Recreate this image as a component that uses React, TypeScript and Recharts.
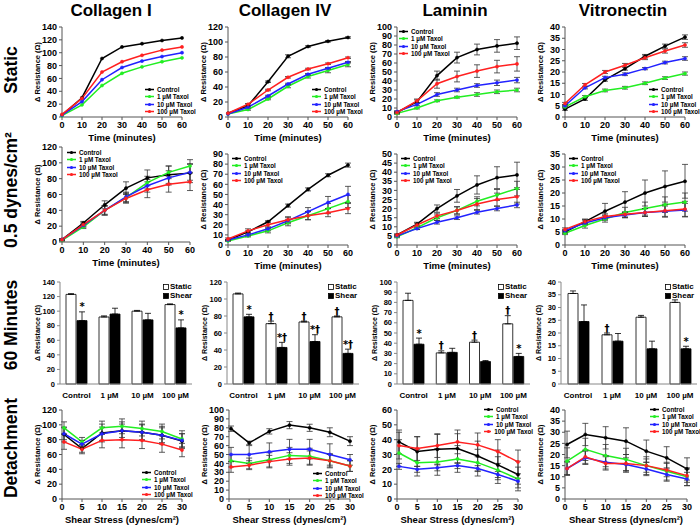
import React from 'react';
import { LineChart, Line, XAxis, YAxis, ErrorBar, Legend, BarChart, Bar, LabelList } from 'recharts';

const NARROW = "'Liberation Sans Narrow', 'Arial Narrow', 'Liberation Sans', Arial, sans-serif";
const SANS = "'Liberation Sans', Arial, sans-serif";
const MARKFONT = "'DejaVu Sans', 'Liberation Sans', sans-serif";

// ---------- shared categories / labels ----------
const columnTitles = ['Collagen I', 'Collagen IV', 'Laminin', 'Vitronectin'];
const rowTitles = ['Static', '0.5 dynes/cm²', '60 Minutes', 'Detachment'];
const timeMinutes = [0, 10, 20, 30, 40, 50, 60];
const shearStress = [0.5, 5, 10, 15, 20, 25, 30];
const timeTicks = [0, 10, 20, 30, 40, 50, 60];
const shearTicks = [0, 5, 10, 15, 20, 25, 30];
const seriesNames = ['Control', '1 µM Taxol', '10 µM Taxol', '100 µM Taxol'];
const seriesColors = ['#000000', '#22ee22', '#2222ff', '#ff2020'];
const barCategories = ['Control', '1 µM', '10 µM', '100 µM'];
const barSeriesNames = ['Static', 'Shear'];

const ticks140 = [0, 20, 40, 60, 80, 100, 120, 140];
const ticks120 = [0, 20, 40, 60, 80, 100, 120];
const ticks100by10 = [0, 10, 20, 30, 40, 50, 60, 70, 80, 90, 100];
const ticks90by10 = [0, 10, 20, 30, 40, 50, 60, 70, 80, 90];
const ticks60by10 = [0, 10, 20, 30, 40, 50, 60];
const ticks50by5 = [0, 5, 10, 15, 20, 25, 30, 35, 40, 45, 50];
const ticks40by5 = [0, 5, 10, 15, 20, 25, 30, 35, 40];
const ticks35by5 = [0, 5, 10, 15, 20, 25, 30, 35];

// ---------- Row 1: Static (Control, 1, 10, 100 µM) ----------
const staticCollagenI = [
  [3, 30, 91, 109, 114, 119, 123],
  [2, 19, 49, 68, 78, 86, 92],
  [3, 24, 58, 77, 87, 94, 100],
  [4, 29, 70, 86, 96, 104, 109],
];
const staticCollagenIV = [
  [5, 15, 47, 81, 94, 101, 106],
  [4, 10, 24, 41, 54, 62, 70],
  [4, 13, 28, 44, 57, 65, 73],
  [5, 17, 36, 53, 64, 71, 79],
];
const staticCollagenIVErr = [
  [0, 0, 1, 2, 1, 1, 1],
  [0, 1, 1, 2, 2, 3, 3],
  [0, 1, 1, 1, 1, 1, 1],
  [0, 1, 1, 1, 1, 1, 1],
];
const staticLaminin = [
  [5, 17, 46, 66, 75, 79, 82],
  [4, 10, 18, 22, 25, 28, 30],
  [6, 14, 25, 30, 35, 38, 41],
  [5, 18, 37, 45, 51, 56, 59],
];
const staticLamininErr = [
  [1, 2, 5, 6, 6, 7, 7],
  [1, 1, 1, 1, 2, 2, 2],
  [1, 1, 2, 2, 2, 3, 3],
  [1, 2, 5, 6, 7, 7, 8],
];
const staticVitronectin = [
  [3.5, 8, 16.5, 21.5, 27, 31.5, 35.5],
  [4.5, 9, 11.8, 13, 15, 17.3, 19.3],
  [5, 13, 17.5, 19, 21.5, 24.2, 26],
  [6, 14.3, 20, 23, 26.3, 29.3, 32],
];
const staticVitronectinErr = [
  [0.5, 0.6, 0.6, 0.7, 0.8, 0.9, 1],
  [0.4, 0.5, 0.6, 0.6, 0.6, 0.6, 0.7],
  [0.4, 0.5, 0.6, 0.6, 0.5, 0.6, 0.8],
  [0.5, 0.6, 0.7, 0.8, 0.8, 0.9, 1],
];

// ---------- Row 2: 0.5 dynes/cm² ----------
const shearCollagenI = [
  [3, 24, 47, 68, 81, 85, 87],
  [2, 19, 40, 56, 75, 88, 96],
  [3, 21, 40, 57, 71, 81, 88],
  [3, 22, 40, 55, 66, 73, 76],
];
const shearCollagenIErr = [
  [1, 2, 5, 8, 10, 11, 12],
  [1, 2, 6, 6, 8, 8, 8],
  [1, 2, 5, 6, 8, 9, 10],
  [1, 3, 6, 6, 10, 10, 11],
];
const shearCollagenIV = [
  [5, 13, 23, 39, 55, 69, 79],
  [4, 9, 14, 22, 29, 36, 43],
  [5, 10, 16, 24, 33, 42, 50],
  [6, 14, 20, 25, 29, 32, 36],
];
const shearCollagenIVErr = [
  [0.5, 1, 1, 1.5, 1.5, 1.5, 2],
  [0.5, 1, 2, 3, 4, 5, 6],
  [0.5, 1, 2, 3, 4, 6, 8],
  [1, 2, 3, 3, 4, 4, 5],
];
const shearLaminin = [
  [5.5, 11.5, 20, 27, 33, 37, 38.5],
  [4.5, 9.5, 15, 19, 24, 27.5, 31],
  [5, 9, 12.5, 15, 18, 20, 22],
  [5.5, 11, 16, 19, 22.5, 25, 26.5],
];
const shearLamininErr = [
  [0.5, 1, 2, 3.5, 5, 6, 7],
  [0.5, 1, 1.5, 2, 2.5, 3, 4],
  [0.5, 0.5, 1, 1, 1, 1.2, 1.5],
  [0.5, 1, 1.5, 2, 3, 3.5, 4],
];
const shearVitronectin = [
  [5, 9, 13, 16.5, 20, 22.5, 24.5],
  [4.5, 7.5, 10, 12.5, 14, 15.5, 16.5],
  [5.5, 8.5, 10.5, 11.5, 12.5, 13, 13.5],
  [6, 9, 11, 11.8, 12.5, 13.2, 13.8],
];
const shearVitronectinErr = [
  [0.6, 1, 3, 4, 5, 6, 6.5],
  [0.5, 1, 1.2, 2, 2.5, 3, 3.5],
  [0.5, 0.8, 1, 1, 1.5, 2, 2.5],
  [0.6, 0.8, 1, 1, 1.5, 2.5, 3],
];

// ---------- Row 3: 60 minutes (Control, 1, 10, 100 µM) ----------
const min60CollagenIStatic = [123, 92, 100, 109];
const min60CollagenIStaticErr = [1, 1.5, 1, 1];
const min60CollagenIShear = [87, 96, 88, 77];
const min60CollagenIShearErr = [12, 8, 9, 11];
const min60CollagenIStaticMarks = ['', '', '', ''];
const min60CollagenIShearMarks = ['*', '', '', '*'];

const min60CollagenIVStatic = [106, 71, 73, 79];
const min60CollagenIVStaticErr = [1, 3, 1, 1];
const min60CollagenIVShear = [79, 43, 50, 36];
const min60CollagenIVShearErr = [3, 6, 8, 5];
const min60CollagenIVStaticMarks = ['', '†', '†', '†'];
const min60CollagenIVShearMarks = ['*', '*†', '*†', '*†'];

const min60LamininStatic = [82, 30.5, 41, 59];
const min60LamininStaticErr = [7, 2, 2, 8];
const min60LamininShear = [39, 31, 22, 27];
const min60LamininShearErr = [6, 4, 1, 3];
const min60LamininStaticMarks = ['', '†', '†', '†'];
const min60LamininShearMarks = ['*', '', '', '*'];

const min60VitronectinStatic = [35.5, 19.3, 26.2, 32];
const min60VitronectinStaticErr = [1, 0.7, 0.7, 1];
const min60VitronectinShear = [24.5, 16.8, 13.8, 13.8];
const min60VitronectinShearErr = [6.5, 3, 3, 1];
const min60VitronectinStaticMarks = ['', '†', '', ''];
const min60VitronectinShearMarks = ['', '', '', '*'];

// ---------- Row 4: Detachment ----------
const detachCollagenI = [
  [87, 68, 89, 92, 90, 86, 78],
  [96, 77, 96, 98, 95, 91, 81],
  [88, 74, 88, 92, 90, 86, 79],
  [77, 67, 79, 80, 79, 74, 66],
];
const detachCollagenIErr = [
  [10, 5, 12, 12, 11, 12, 10],
  [8, 6, 9, 10, 10, 10, 11],
  [8, 5, 9, 9, 10, 10, 9],
  [10, 6, 10, 11, 11, 11, 9],
];
const detachCollagenIV = [
  [79, 63, 76, 83, 80, 75, 65],
  [43, 40, 44, 49, 48, 43, 37],
  [50, 50, 53, 56, 56, 50, 44],
  [36, 38, 42, 45, 46, 43, 37],
];
const detachCollagenIVErr = [
  [3, 2, 3, 4, 4, 5, 5],
  [7, 6, 8, 9, 9, 8, 6],
  [8, 10, 10, 11, 11, 12, 6],
  [6, 5, 7, 7, 8, 7, 6],
];
const detachLaminin = [
  [38.5, 32, 33.5, 34, 29, 23, 16.5],
  [31, 24.5, 25, 27, 24.5, 19.5, 13.5],
  [22, 20, 21, 22.5, 20.5, 16.5, 12],
  [36, 34, 36, 38.5, 36.5, 32, 25],
];
const detachLamininErr = [
  [8, 10, 10, 10, 10, 10, 9],
  [9, 9, 9, 9, 9, 9, 8],
  [2, 2, 2, 2, 2, 2, 2],
  [9, 8, 8, 8, 8, 8, 8],
];
const detachVitronectin = [
  [24.5, 29, 27.5, 26, 21.5, 18.5, 13.5],
  [17, 22.3, 19.5, 17.8, 15, 12.5, 10],
  [13.7, 18.5, 16.5, 15.5, 13.5, 11, 9],
  [13.7, 19, 16, 16, 15, 13, 10.5],
];
const detachVitronectinErr = [
  [6, 5, 5, 6, 5, 5, 5],
  [6, 5, 5, 5, 4, 4, 4],
  [3, 3, 3, 3, 3, 3, 3],
  [3, 3, 3, 4, 3, 3, 3],
];

// ---------- components ----------
const LineLegend = () => (
  <div style={{ fontFamily: NARROW, fontSize: 6.3, fontWeight: 700, color: '#000', lineHeight: '7.5px' }}>
    {seriesNames.map((n, k) => (
      <div key={k} style={{ display: 'flex', alignItems: 'center', height: 7.5, whiteSpace: 'nowrap' }}>
        <svg width={9} height={5} style={{ display: 'block' }}>
          <line x1={0} y1={2.5} x2={9} y2={2.5} stroke={seriesColors[k]} strokeWidth={1.5} />
          <circle cx={4.5} cy={2.5} r={1.6} fill={seriesColors[k]} />
        </svg>
        <span style={{ marginLeft: 3 }}>{n}</span>
      </div>
    ))}
  </div>
);

const BarLegend = () => (
  <div style={{ fontFamily: NARROW, fontSize: 8, fontWeight: 700, color: '#000', lineHeight: '9px' }}>
    {barSeriesNames.map((n, k) => (
      <div key={k} style={{ display: 'flex', alignItems: 'center', height: 9, whiteSpace: 'nowrap' }}>
        <svg width={6} height={6} style={{ display: 'block' }}>
          <rect x={0.5} y={0.5} width={5} height={5} fill={k === 0 ? '#fff' : '#000'} stroke="#000" strokeWidth={0.8} />
        </svg>
        <span style={{ marginLeft: 1 }}>{n}</span>
      </div>
    ))}
  </div>
);

type LineProps = {
  axisX: number; plotTop: number; plotRight: number; plotBottom: number;
  x: number[]; values: number[][]; errors?: number[][];
  yMax: number; yTicks: number[]; xMax: number; xTicks: number[]; xLabel: string;
  legendX: number; legendY: number;
};

const tickStyle = { fontSize: 9, fontWeight: 700, fill: '#000', fontFamily: NARROW };

function LinePanel(p: LineProps) {
  const yW = 42, mTop = 6, mRight = 15, xH = 29;
  const plotW = p.plotRight - p.axisX;
  const plotH = p.plotBottom - p.plotTop;
  const left = p.axisX - yW;
  const top = p.plotTop - mTop;
  const width = yW + plotW + mRight;
  const height = mTop + plotH + xH;
  const data = p.x.map((xv, i) => {
    const row: any = { x: xv };
    p.values.forEach((s, k) => {
      row['s' + k] = s[i];
      if (p.errors) row['e' + k] = p.errors[k][i];
    });
    return row;
  });
  const legendLeft = p.legendX - left;
  return (
    <div style={{ position: 'absolute', left, top, width, height }}>
      <LineChart width={width} height={height} data={data} margin={{ top: mTop, right: mRight, bottom: 0, left: 0 }}>
        <XAxis dataKey="x" type="number" domain={[0, p.xMax]} ticks={p.xTicks} interval={0} height={xH}
          tickSize={3} stroke="#555" tick={tickStyle}
          label={{ value: p.xLabel, position: 'insideBottom', offset: 5, style: { ...tickStyle, fontSize: 9.5 } }} />
        <YAxis type="number" domain={[0, p.yMax]} ticks={p.yTicks} interval={0} width={yW}
          tickSize={3} stroke="#555" tick={tickStyle}
          label={{ value: 'Δ Resistance (Ω)', angle: -90, position: 'insideLeft', offset: yW - 25,
            style: { textAnchor: 'middle', fontSize: 7.5, fontWeight: 700, fill: '#000', fontFamily: SANS } }} />
        {p.values.map((_, k) => (
          <Line key={k} dataKey={'s' + k} name={seriesNames[k]} stroke={seriesColors[k]} strokeWidth={1.5}
            dot={{ r: 1.6, fill: seriesColors[k], stroke: seriesColors[k], strokeWidth: 0.5 }}
            isAnimationActive={false}>
            {p.errors && <ErrorBar dataKey={'e' + k} width={3} stroke="#333" strokeWidth={0.8} direction="y" />}
          </Line>
        ))}
        <Legend layout="vertical" align="center" verticalAlign="middle"
          wrapperStyle={{ left: legendLeft, top: p.legendY - top, width: Math.max(20, width - legendLeft), height: 'auto' }}
          content={<LineLegend />} />
      </LineChart>
    </div>
  );
}

type BarProps = {
  axisX: number; plotTop: number; plotRight: number; plotBottom: number;
  staticVals: number[]; staticErr: number[]; shearVals: number[]; shearErr: number[];
  staticMarks: string[]; shearMarks: string[];
  yMax: number; yTicks: number[]; legendX: number; legendY: number;
};

function makeMark(data: any[], valKey: string, errKey: string) {
  return (props: any) => {
    const { x, y, width, height, index, value } = props;
    if (!value) return null;
    const d = data[index];
    const v = d[valKey];
    const per = v ? height / v : 0;
    const topY = y - d[errKey][1] * per;
    return (
      <text x={x + width / 2} y={topY - 1.5} textAnchor="middle" fontSize={10} fontWeight={700}
        fontFamily={MARKFONT} fill="#000000" style={{ fill: '#000000' }}>{value}</text>
    );
  };
}

function BarPanel(p: BarProps) {
  const yW = 36, mTop = 6, mRight = 3, xH = 19;
  const plotW = p.plotRight - p.axisX;
  const plotH = p.plotBottom - p.plotTop;
  const left = p.axisX - yW;
  const top = p.plotTop - mTop;
  const width = yW + plotW + mRight;
  const height = mTop + plotH + xH;
  const data = barCategories.map((c, i) => ({
    cat: c,
    st: p.staticVals[i], sh: p.shearVals[i],
    stE: [0, p.staticErr[i]], shE: [0, p.shearErr[i]],
    stM: p.staticMarks[i], shM: p.shearMarks[i],
  }));
  const small = { fontSize: 7.5, fontWeight: 700, fill: '#000', fontFamily: NARROW };
  return (
    <div style={{ position: 'absolute', left, top, width, height }}>
      <BarChart width={width} height={height} data={data} barGap={1}
        margin={{ top: mTop, right: mRight, bottom: 0, left: 0 }}>
        <XAxis dataKey="cat" tickLine={false} height={xH} stroke="#888" interval={0}
          tick={{ ...small, fontSize: 8 }} />
        <YAxis type="number" domain={[0, p.yMax]} ticks={p.yTicks} interval={0} width={yW}
          tickSize={3} stroke="#888" tick={small}
          label={{ value: 'Δ Resistance (Ω)', angle: -90, position: 'insideLeft', offset: yW - 22,
            style: { textAnchor: 'middle', fontSize: 7, fontWeight: 700, fill: '#000', fontFamily: SANS } }} />
        <Bar dataKey="st" name="Static" fill="#ffffff" stroke="#000" strokeWidth={0.8} barSize={10}
          isAnimationActive={false}>
          <ErrorBar dataKey="stE" width={3} stroke="#000" strokeWidth={0.8} direction="y" />
          <LabelList dataKey="stM" content={makeMark(data, 'st', 'stE')} />
        </Bar>
        <Bar dataKey="sh" name="Shear" fill="#000000" stroke="#000" strokeWidth={0.8} barSize={10}
          isAnimationActive={false}>
          <ErrorBar dataKey="shE" width={3} stroke="#000" strokeWidth={0.8} direction="y" />
          <LabelList dataKey="shM" content={makeMark(data, 'sh', 'shE')} />
        </Bar>
        <Legend layout="vertical" align="center" verticalAlign="middle"
          wrapperStyle={{ left: p.legendX - left, top: p.legendY - top, width: 'auto', height: 'auto' }}
          content={<BarLegend />} />
      </BarChart>
    </div>
  );
}

// ---------- layout (page coordinates) ----------
const titleX = [111, 285, 455, 623];
const rowLabelY = [70, 190, 325, 448];

export default function App() {
  const timeLabel = 'Time (minutes)';
  const shearLabel = 'Shear Stress (dynes/cm²)';
  return (
    <div style={{ position: 'absolute', left: 0, top: 0, width: 700, height: 525, background: '#fff', overflow: 'hidden' }}>
      <svg width={700} height={525} style={{ position: 'absolute', left: 0, top: 0 }}>
        {columnTitles.map((t, i) => (
          <text key={t} x={titleX[i]} y={16} textAnchor="middle" fontSize={17} fontWeight={700}
            fontFamily={NARROW} fill="#000">{t}</text>
        ))}
        {rowTitles.map((t, i) => (
          <text key={t} transform={`translate(17,${rowLabelY[i]}) rotate(-90)`} textAnchor="middle"
            fontSize={17.5} fontWeight={700} fontFamily={SANS} fill="#000">{t}</text>
        ))}
      </svg>

      {/* Row 1: Static */}
      <LinePanel axisX={62} plotTop={27} plotRight={182} plotBottom={117} x={timeMinutes}
        values={staticCollagenI} yMax={140} yTicks={ticks140} xMax={60} xTicks={timeTicks}
        xLabel={timeLabel} legendX={145} legendY={85.5} />
      <LinePanel axisX={228} plotTop={27} plotRight={348} plotBottom={117} x={timeMinutes}
        values={staticCollagenIV} errors={staticCollagenIVErr} yMax={120} yTicks={ticks120} xMax={60}
        xTicks={timeTicks} xLabel={timeLabel} legendX={312} legendY={85.5} />
      <LinePanel axisX={397} plotTop={27} plotRight={517} plotBottom={117} x={timeMinutes}
        values={staticLaminin} errors={staticLamininErr} yMax={100} yTicks={ticks100by10} xMax={60}
        xTicks={timeTicks} xLabel={timeLabel} legendX={399} legendY={27.5} />
      <LinePanel axisX={565} plotTop={27} plotRight={685} plotBottom={117} x={timeMinutes}
        values={staticVitronectin} errors={staticVitronectinErr} yMax={40} yTicks={ticks40by5} xMax={60}
        xTicks={timeTicks} xLabel={timeLabel} legendX={649} legendY={85.5} />

      {/* Row 2: 0.5 dynes/cm² */}
      <LinePanel axisX={62} plotTop={147} plotRight={190} plotBottom={242} x={timeMinutes}
        values={shearCollagenI} errors={shearCollagenIErr} yMax={120} yTicks={ticks120} xMax={60}
        xTicks={timeTicks} xLabel={timeLabel} legendX={67} legendY={148.5} />
      <LinePanel axisX={228} plotTop={154} plotRight={348} plotBottom={245} x={timeMinutes}
        values={shearCollagenIV} errors={shearCollagenIVErr} yMax={90} yTicks={ticks90by10} xMax={60}
        xTicks={timeTicks} xLabel={timeLabel} legendX={232} legendY={154.5} />
      <LinePanel axisX={397} plotTop={154} plotRight={517} plotBottom={245} x={timeMinutes}
        values={shearLaminin} errors={shearLamininErr} yMax={50} yTicks={ticks50by5} xMax={60}
        xTicks={timeTicks} xLabel={timeLabel} legendX={401} legendY={154.5} />
      <LinePanel axisX={565} plotTop={154} plotRight={685} plotBottom={245} x={timeMinutes}
        values={shearVitronectin} errors={shearVitronectinErr} yMax={35} yTicks={ticks35by5} xMax={60}
        xTicks={timeTicks} xLabel={timeLabel} legendX={569} legendY={154.5} />

      {/* Row 3: 60 minutes */}
      <BarPanel axisX={60} plotTop={282} plotRight={192} plotBottom={384}
        staticVals={min60CollagenIStatic} staticErr={min60CollagenIStaticErr}
        shearVals={min60CollagenIShear} shearErr={min60CollagenIShearErr}
        staticMarks={min60CollagenIStaticMarks} shearMarks={min60CollagenIShearMarks}
        yMax={140} yTicks={ticks140} legendX={163} legendY={282} />
      <BarPanel axisX={227} plotTop={282} plotRight={359} plotBottom={384}
        staticVals={min60CollagenIVStatic} staticErr={min60CollagenIVStaticErr}
        shearVals={min60CollagenIVShear} shearErr={min60CollagenIVShearErr}
        staticMarks={min60CollagenIVStaticMarks} shearMarks={min60CollagenIVShearMarks}
        yMax={120} yTicks={ticks120} legendX={328} legendY={282} />
      <BarPanel axisX={397} plotTop={282} plotRight={530} plotBottom={384}
        staticVals={min60LamininStatic} staticErr={min60LamininStaticErr}
        shearVals={min60LamininShear} shearErr={min60LamininShearErr}
        staticMarks={min60LamininStaticMarks} shearMarks={min60LamininShearMarks}
        yMax={100} yTicks={ticks100by10} legendX={498} legendY={282} />
      <BarPanel axisX={561} plotTop={282} plotRight={697} plotBottom={384}
        staticVals={min60VitronectinStatic} staticErr={min60VitronectinStaticErr}
        shearVals={min60VitronectinShear} shearErr={min60VitronectinShearErr}
        staticMarks={min60VitronectinStaticMarks} shearMarks={min60VitronectinShearMarks}
        yMax={40} yTicks={ticks40by5} legendX={665} legendY={282} />

      {/* Row 4: Detachment */}
      <LinePanel axisX={62} plotTop={410} plotRight={182} plotBottom={499} x={shearStress}
        values={detachCollagenI} errors={detachCollagenIErr} yMax={120} yTicks={ticks120} xMax={30}
        xTicks={shearTicks} xLabel={shearLabel} legendX={142} legendY={468.5} />
      <LinePanel axisX={229} plotTop={410} plotRight={350} plotBottom={499} x={shearStress}
        values={detachCollagenIV} errors={detachCollagenIVErr} yMax={100} yTicks={ticks100by10} xMax={30}
        xTicks={shearTicks} xLabel={shearLabel} legendX={313} legendY={469.5} />
      <LinePanel axisX={397} plotTop={410} plotRight={518} plotBottom={499} x={shearStress}
        values={detachLaminin} errors={detachLamininErr} yMax={60} yTicks={ticks60by10} xMax={30}
        xTicks={shearTicks} xLabel={shearLabel} legendX={484} legendY={405.5} />
      <LinePanel axisX={565} plotTop={410} plotRight={687} plotBottom={499} x={shearStress}
        values={detachVitronectin} errors={detachVitronectinErr} yMax={40} yTicks={ticks40by5} xMax={30}
        xTicks={shearTicks} xLabel={shearLabel} legendX={650} legendY={405.5} />
    </div>
  );
}
